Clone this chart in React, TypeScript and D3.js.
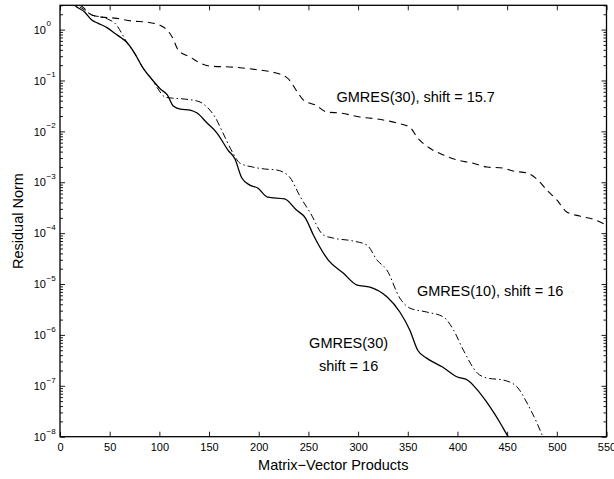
import React, { useEffect, useRef } from 'react';
import * as d3 from 'd3';

// GMRES(30), shift = 16  (solid)
const mvSolid = [8, 15, 25, 32, 38, 48, 55, 62, 67, 75, 83, 93, 101, 108, 114, 121, 131, 138, 148, 158, 169, 176, 183, 191, 199, 209, 226, 238, 247, 255, 270, 285, 299, 312, 329, 342, 352, 360, 369, 385, 400, 410, 420, 430, 443, 451, 456];
const resSolid = [4.5, 3.0, 2.2, 1.54, 1.34, 1.07, 0.85, 0.68, 0.57, 0.345, 0.183, 0.102, 0.068, 0.052, 0.0314, 0.0274, 0.0262, 0.0229, 0.0146, 0.00927, 0.0043, 0.0029, 0.00121, 8.8e-4, 7.7e-4, 5.1e-4, 4.7e-4, 2.84e-4, 1.98e-4, 9.2e-5, 2.96e-5, 1.64e-5, 9.5e-6, 8.7e-6, 5.6e-6, 2.82e-6, 1.25e-6, 5.0e-7, 3.5e-7, 2.34e-7, 1.49e-7, 1.3e-7, 8.3e-8, 4.6e-8, 1.86e-8, 1e-8, 7e-9];

// GMRES(10), shift = 16  (dash-dot)
const mvDashDot = [10, 18, 25, 32, 42, 48, 57, 62, 67, 75, 83, 93, 98, 106, 113, 126, 141, 148, 156, 164, 174, 181, 194, 206, 218, 231, 242, 252, 265, 275, 295, 309, 319, 329, 342, 352, 369, 386, 396, 406, 420, 430, 446, 460, 470, 480, 486, 490];
const resDashDot = [4.5, 3.0, 2.4, 1.93, 1.76, 1.61, 1.22, 0.85, 0.57, 0.345, 0.183, 0.102, 0.071, 0.047, 0.045, 0.043, 0.0377, 0.03, 0.0191, 0.0093, 0.00375, 0.00238, 0.00199, 0.00182, 0.00174, 0.00127, 5.1e-4, 2.48e-4, 9.2e-5, 8.0e-5, 7.0e-5, 5.8e-5, 2.96e-5, 1.88e-5, 5.3e-6, 3.37e-6, 2.82e-6, 2.25e-6, 1.25e-6, 5.0e-7, 1.78e-7, 1.42e-7, 1.3e-7, 9.5e-8, 4.6e-8, 1.86e-8, 1e-8, 7e-9];

// GMRES(30), shift = 15.7  (dashed)
const mvDashed = [10, 23, 32, 42, 55, 73, 88, 104, 113, 119, 131, 141, 151, 174, 201, 214, 229, 239, 245, 257, 269, 282, 302, 319, 339, 352, 360, 372, 386, 400, 415, 430, 446, 456, 470, 481, 490, 500, 510, 523, 539, 550];
const resDashed = [4.0, 2.77, 1.93, 1.76, 1.68, 1.47, 1.4, 1.12, 0.71, 0.395, 0.288, 0.22, 0.192, 0.183, 0.16, 0.146, 0.111, 0.059, 0.041, 0.0329, 0.0239, 0.0229, 0.0191, 0.0175, 0.0146, 0.0121, 0.0074, 0.0047, 0.00342, 0.00273, 0.00238, 0.00199, 0.0019, 0.00166, 0.00152, 0.0011, 7.0e-4, 4.5e-4, 2.6e-4, 2.17e-4, 1.81e-4, 1.44e-4];

const xTicks = [0, 50, 100, 150, 200, 250, 300, 350, 400, 450, 500, 550];
const yExponents = [0, -1, -2, -3, -4, -5, -6, -7, -8];

const App = () => {
  const chartRef = useRef(null);

  useEffect(() => {
    const width = 614;
    const height = 479;
    const left = 60;
    const right = 606.5;
    const top = 5.3;
    const bottom = 436.7;
    const font = 'Liberation Sans, Arial, Helvetica, sans-serif';

    const svg = d3.select(chartRef.current);
    svg.selectAll('*').remove();
    svg.attr('width', width).attr('height', height);

    const x = d3.scaleLinear().domain([0, 550]).range([left, right]);
    const y = d3.scaleLog().domain([1e-8, 3]).range([bottom, top]);

    svg.append('clipPath').attr('id', 'plotclip')
      .append('rect')
      .attr('x', left).attr('y', top)
      .attr('width', right - left).attr('height', bottom - top);

    // minor log ticks
    const minors = [];
    yExponents.forEach(e => {
      for (let k = 2; k <= 9; k++) {
        const v = k * Math.pow(10, e);
        if (v <= 3) minors.push(v);
      }
    });
    const majors = yExponents.map(e => Math.pow(10, e));

    const gx = svg.append('g').attr('transform', `translate(0,${bottom})`)
      .call(d3.axisBottom(x).tickValues(xTicks).tickSize(-5).tickPadding(7).tickFormat(d3.format('d')));
    gx.selectAll('text').attr('font-size', 11).attr('font-family', font).attr('fill', '#000');

    svg.append('g').attr('transform', `translate(0,${top})`)
      .call(d3.axisTop(x).tickValues(xTicks).tickSize(-5).tickFormat(() => ''));

    svg.append('g').attr('transform', `translate(${left},0)`)
      .call(d3.axisLeft(y).tickValues(majors).tickSize(-5).tickFormat(() => ''));
    svg.append('g').attr('transform', `translate(${left},0)`)
      .call(d3.axisLeft(y).tickValues(minors).tickSize(-3).tickFormat(() => ''));
    svg.append('g').attr('transform', `translate(${right},0)`)
      .call(d3.axisRight(y).tickValues(majors).tickSize(-5).tickFormat(() => ''));
    svg.append('g').attr('transform', `translate(${right},0)`)
      .call(d3.axisRight(y).tickValues(minors).tickSize(-3).tickFormat(() => ''));

    svg.selectAll('.domain').remove();
    svg.selectAll('.tick line').attr('stroke', '#000').attr('stroke-width', 0.9);

    // y tick labels: 10 with superscript exponent
    const yl = svg.append('g').attr('font-family', font).attr('fill', '#000');
    yl.selectAll('text.base')
      .data(yExponents)
      .join('text')
      .attr('class', 'base')
      .attr('x', 46)
      .attr('y', d => y(Math.pow(10, d)) + 4.2)
      .attr('text-anchor', 'end')
      .attr('font-size', 11)
      .text('10');
    yl.selectAll('text.exp')
      .data(yExponents)
      .join('text')
      .attr('class', 'exp')
      .attr('x', 46.5)
      .attr('y', d => y(Math.pow(10, d)) - 3.2)
      .attr('font-size', 8)
      .text(d => (d < 0 ? '\u2212' + Math.abs(d) : String(d)));

    const line = d3.line()
      .x(d => x(d[0]))
      .y(d => y(d[1]))
      .curve(d3.curveMonotoneX);

    const series = [
      { mv: mvDashed, res: resDashed, dash: '7,5', w: 1.1 },
      { mv: mvDashDot, res: resDashDot, dash: '7,3,1.5,3', w: 1.0 },
      { mv: mvSolid, res: resSolid, dash: null, w: 1.3 },
    ];

    const plot = svg.append('g').attr('clip-path', 'url(#plotclip)');
    series.forEach(s => {
      plot.append('path')
        .datum(s.mv.map((v, i) => [v, s.res[i]]))
        .attr('fill', 'none')
        .attr('stroke', '#000')
        .attr('stroke-width', s.w)
        .attr('stroke-dasharray', s.dash)
        .attr('d', line);
    });

    // frame
    svg.append('rect')
      .attr('x', left).attr('y', top)
      .attr('width', right - left).attr('height', bottom - top)
      .attr('fill', 'none').attr('stroke', '#000').attr('stroke-width', 1.3);

    // annotations
    const ann = svg.append('g').attr('font-family', font).attr('font-size', 14.5).attr('fill', '#000');
    ann.append('text').attr('x', 336.5).attr('y', 102).text('GMRES(30), shift = 15.7');
    ann.append('text').attr('x', 417).attr('y', 296).text('GMRES(10), shift = 16');
    ann.append('text').attr('x', 348.6).attr('y', 348).attr('text-anchor', 'middle').text('GMRES(30)');
    ann.append('text').attr('x', 348.6).attr('y', 371).attr('text-anchor', 'middle').text('shift = 16');

    // axis labels
    svg.append('text')
      .attr('x', (left + right) / 2).attr('y', 470)
      .attr('text-anchor', 'middle')
      .attr('font-family', font).attr('font-size', 14.5)
      .text('Matrix\u2212Vector Products');
    svg.append('text')
      .attr('transform', `translate(23,${(top + bottom) / 2}) rotate(-90)`)
      .attr('text-anchor', 'middle')
      .attr('font-family', font).attr('font-size', 14.5)
      .text('Residual Norm');
  }, []);

  return (
    <div style={{ position: 'absolute', left: 0, top: 0 }}>
      <svg ref={chartRef} style={{ display: 'block' }}></svg>
    </div>
  );
};

export default App;
